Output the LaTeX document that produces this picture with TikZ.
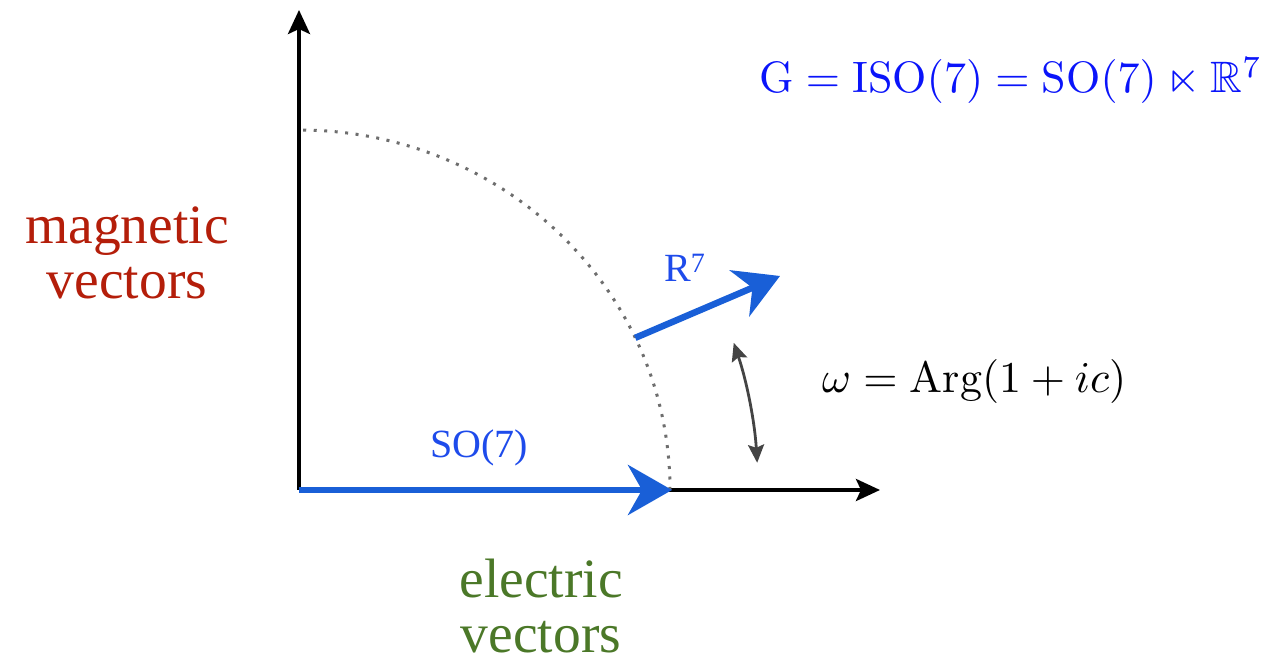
\documentclass[tikz,border=0pt]{standalone}
\usepackage{amssymb}
\usepackage{graphicx}
\usepackage{fontspec}
\newfontfamily\labelfont{Liberation Serif}
\usetikzlibrary{arrows.meta}
\definecolor{arrowblue}{RGB}{25,95,215}
\definecolor{labelblue}{RGB}{30,75,235}
\definecolor{mathblue}{RGB}{10,20,250}
\definecolor{magred}{RGB}{180,30,10}
\definecolor{elgreen}{RGB}{75,120,40}
\definecolor{dotgray}{RGB}{110,110,110}
\definecolor{anglegray}{RGB}{68,68,68}
\tikzset{
  axis/.style={line width=4pt,-{Stealth[length=24pt,width=22pt,inset=5pt]}},
  bluevec/.style={arrowblue,line width=6.5pt,-{Stealth[length=44pt,width=50pt,inset=14pt]}},
  dotarc/.style={dotgray,line width=3pt,dash pattern=on 3pt off 7.5pt},
  anglearrow/.style={anglegray,line width=2.8pt,{Stealth[length=18pt,width=16pt,inset=3pt]}-{Stealth[length=18pt,width=16pt,inset=3pt]}},
  bigtext/.style={font=\labelfont\fontsize{55.5}{55}\selectfont,align=center,inner sep=0pt},
  smalltext/.style={font=\labelfont\fontsize{40}{40}\selectfont,text=labelblue,inner sep=0pt},
  mathtext/.style={inner sep=0pt}
}
\begin{document}
\begin{tikzpicture}[x=1pt,y=1pt]
\useasboundingbox (-299,-176) rectangle (984,490);
\coordinate (O) at (0,0);
\coordinate (ytip) at (0,480);
\coordinate (xtip) at (581,0);
\coordinate (arcx) at (371,0);
\coordinate (sotip) at (373,0);
\coordinate (rs) at (25:371pt and 360pt);
\coordinate (re) at (481,214);
\coordinate (wa) at (18.7:459pt);
% axes
\draw[axis] (O) -- (ytip);
\draw[axis] (O) -- (xtip);
% dotted arc
\draw[dotarc] (arcx) arc[start angle=0,end angle=90,x radius=371pt,y radius=360pt];
% blue vectors
\draw[bluevec] (O) -- (sotip);
\draw[bluevec] (rs) -- (re);
% angle arrow
\draw[anglearrow] (wa) arc[start angle=18.7,end angle=3.4,radius=459pt];
% labels
\node[mathtext,anchor=base west,text=mathblue] (G) at (460,397)
  {\scalebox{4.4}{$\mathrm{G}=\mathrm{ISO}(7)=\mathrm{SO}(7)\ltimes\mathbb{R}^7$}};
\node[mathtext,anchor=base west] (om) at (523,97)
  {\scalebox{4.4}{$\omega=\mathrm{Arg}(1+ic)$}};
\node[bigtext,text=magred] (mag) at (-172,237) {magnetic\\vectors};
\node[bigtext,text=elgreen] (el) at (242,-116) {electric\\vectors};
\node[smalltext,anchor=base west] (so) at (131,32) {SO(7)};
\node[smalltext,anchor=base west] (r7) at (365,208) {R\textsuperscript{7}};
\end{tikzpicture}
\end{document}
